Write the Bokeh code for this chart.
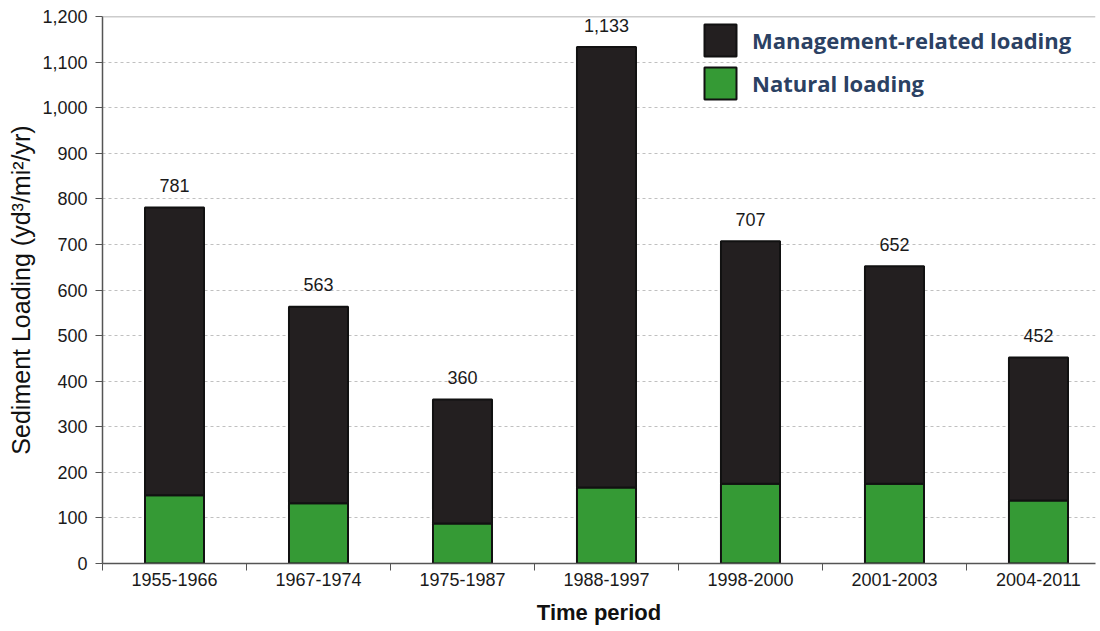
from bokeh.plotting import figure
from bokeh.models import Range1d, FixedTicker, Span, Legend, LegendItem, ColumnDataSource, NumeralTickFormatter
from bokeh.core.properties import value
from bokeh.embed import file_html
from bokeh.resources import INLINE

periods = ["1955-1966", "1967-1974", "1975-1987", "1988-1997", "1998-2000", "2001-2003", "2004-2011"]
totals = [781, 563, 360, 1133, 707, 652, 452]
natural = [150, 132, 88, 167, 175, 175, 138]
management = [t - n for t, n in zip(totals, natural)]
total_labels = ["781", "563", "360", "1,133", "707", "652", "452"]

xs = list(range(1, len(periods) + 1))
src = ColumnDataSource(dict(x=xs, natural=natural, management=management,
                            totals=totals, lbl=total_labels))

p = figure(width=1100, height=631, output_backend="svg", toolbar_location=None,
           x_range=Range1d(0.5, 7.396), y_range=Range1d(0, 1200),
           min_border_left=102, min_border_right=5, min_border_top=16, min_border_bottom=68)
p.outline_line_color = None
p.background_fill_color = "white"

rs = p.vbar_stack(["natural", "management"], x="x", width=0.41, source=src,
                  color=["#359a35", "#231f20"], line_color="#111111", line_width=2)

p.text(x="x", y="totals", text="lbl", source=src, x_offset=0, y_offset=-22,
       text_align="center", text_baseline="alphabetic", text_font=value("Liberation Sans"),
       text_font_size="18px", text_color="#1a1a1a")

p.add_layout(Span(location=1200, dimension="width", line_color="#999999", line_width=1.5))

# axes
p.xaxis.ticker = FixedTicker(ticks=xs, minor_ticks=[i + 0.5 for i in range(0, 8)])
p.xaxis.major_label_overrides = {i: s for i, s in zip(xs, periods)}
p.xaxis.major_tick_out = 0
p.xaxis.major_tick_in = 0
p.xaxis.minor_tick_out = 7
p.xaxis.minor_tick_in = 0
p.xaxis.minor_tick_line_color = "#555555"
p.xaxis.axis_label = "Time period"

p.yaxis.ticker = FixedTicker(ticks=list(range(0, 1201, 100)))
p.yaxis.formatter = NumeralTickFormatter(format="0,0")
p.yaxis.minor_tick_line_color = None
p.yaxis.major_tick_out = 7
p.yaxis.major_tick_in = 0
p.yaxis.axis_label = "Sediment Loading (yd³/mi²/yr)"

for ax in (p.xaxis, p.yaxis):
    ax.axis_line_color = "#555555"
    ax.axis_line_width = 1.5
    ax.major_tick_line_color = "#555555"
    ax.major_label_text_font = "Liberation Sans"
    ax.major_label_text_font_size = "18px"
    ax.major_label_text_color = "#1a1a1a"
    ax.axis_label_text_font = "Liberation Sans"
    ax.axis_label_text_color = "#111111"
p.xaxis.axis_label_text_font_style = "bold"
p.xaxis.axis_label_text_font_size = "22px"
p.yaxis.axis_label_text_font_style = "normal"
p.yaxis.axis_label_text_font_size = "25px"
p.xaxis.major_label_standoff = 2
p.xaxis.axis_label_standoff = 11
p.yaxis.major_label_standoff = 8
p.yaxis.axis_label_standoff = 4

p.xgrid.grid_line_color = None
p.ygrid.grid_line_color = "#c0c0c0"
p.ygrid.grid_line_dash = "3 3"

legend = Legend(items=[LegendItem(label="Management-related loading", renderers=[rs[1]]),
                       LegendItem(label="Natural loading", renderers=[rs[0]])],
                location=(598, 460), orientation="vertical")
legend.border_line_color = None
legend.background_fill_alpha = 0
legend.glyph_width = 40
legend.glyph_height = 40
legend.spacing = 3
legend.padding = 0
legend.margin = 0
legend.label_standoff = 12
legend.label_text_font = "Open Sans"
legend.label_text_font_size = "22px"
legend.label_text_font_style = "bold"
legend.label_text_color = "#2b4163"
legend.label_height = 40
p.add_layout(legend)

open("out.html", "w").write(file_html(p, INLINE))
